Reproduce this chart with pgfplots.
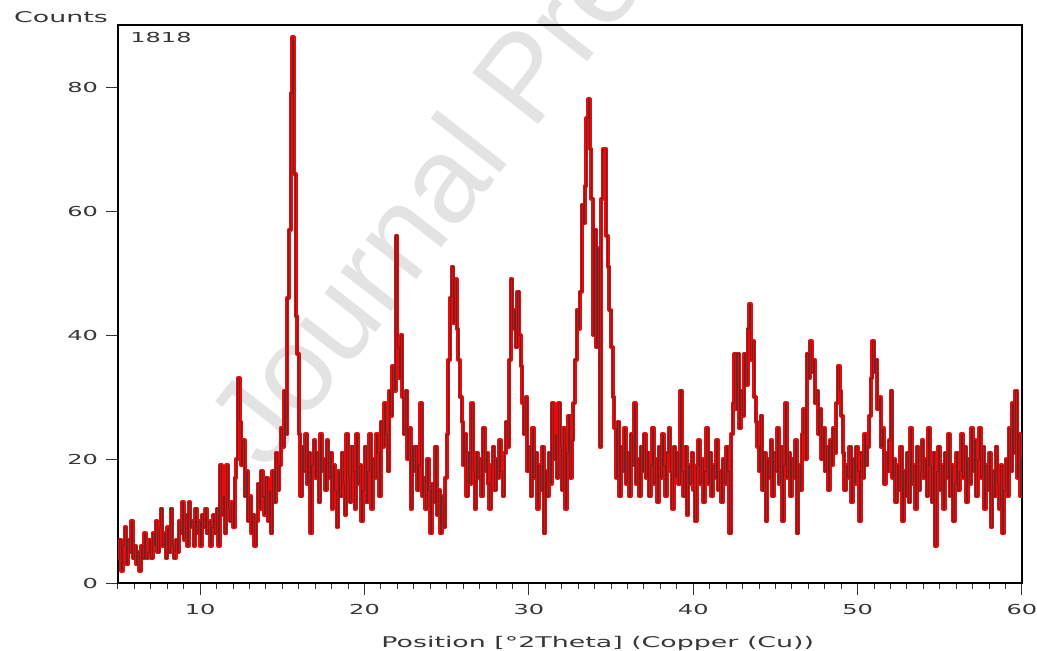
\documentclass[border=0pt]{standalone}
\usepackage{fontspec}
\usepackage{pgfplots}
\usepackage{pgfplotstable}
\pgfplotsset{compat=1.18}
\newfontfamily\wfont[FakeStretch=1.75]{DejaVu Sans}
\newfontfamily\lfont[FakeStretch=1.82]{DejaVu Sans}
\newfontfamily\wmfont{Liberation Sans}
\definecolor{xrdred}{RGB}{228,12,12}
\definecolor{xrddark}{RGB}{120,32,32}
\definecolor{txt}{RGB}{55,55,55}

\pgfplotstableread[row sep=\\]{
x y\\
5.0 4\\ 5.1 7\\ 5.2 2\\ 5.3 6\\ 5.4 9\\ 5.5 3\\ 5.6 7\\ 5.7 5\\ 5.8 10\\ 5.9 4\\
6.0 6\\ 6.1 3\\ 6.2 5\\ 6.3 2\\ 6.4 6\\ 6.5 4\\ 6.6 8\\ 6.7 4\\ 6.8 5\\ 6.9 7\\
7.0 4\\ 7.1 8\\ 7.2 6\\ 7.3 10\\ 7.4 5\\ 7.5 9\\ 7.6 12\\ 7.7 6\\ 7.8 8\\ 7.9 4\\
8.0 9\\ 8.1 5\\ 8.2 12\\ 8.3 6\\ 8.4 4\\ 8.5 7\\ 8.6 5\\ 8.7 10\\ 8.8 8\\ 8.9 13\\
9.0 7\\ 9.1 11\\ 9.2 6\\ 9.3 13\\ 9.4 9\\ 9.5 10\\ 9.6 6\\ 9.7 12\\ 9.8 8\\ 9.9 10\\
10.0 6\\ 10.1 11\\ 10.2 9\\ 10.3 12\\ 10.4 8\\ 10.5 10\\ 10.6 6\\ 10.7 9\\ 10.8 11\\ 10.9 8\\
11.0 12\\ 11.1 6\\ 11.2 19\\ 11.3 11\\ 11.4 14\\ 11.5 8\\ 11.6 19\\ 11.7 12\\ 11.8 10\\ 11.9 13\\
12.0 9\\ 12.1 17\\ 12.2 20\\ 12.3 33\\ 12.4 26\\ 12.5 19\\ 12.6 23\\ 12.7 14\\ 12.8 18\\ 12.9 10\\
13.0 14\\ 13.1 8\\ 13.2 11\\ 13.3 6\\ 13.4 10\\ 13.5 16\\ 13.6 12\\ 13.7 18\\ 13.8 14\\ 13.9 11\\
14.0 17\\ 14.1 10\\ 14.2 15\\ 14.3 8\\ 14.4 18\\ 14.5 13\\ 14.6 21\\ 14.7 15\\ 14.8 19\\ 14.9 25\\
15.0 22\\ 15.1 31\\ 15.2 24\\ 15.3 46\\ 15.4 57\\ 15.5 79\\ 15.6 88\\ 15.7 66\\ 15.8 43\\ 15.9 37\\
16.0 24\\ 16.1 14\\ 16.2 22\\ 16.3 18\\ 16.4 24\\ 16.5 16\\ 16.6 21\\ 16.7 8\\ 16.8 19\\ 16.9 23\\
17.0 17\\ 17.1 21\\ 17.2 13\\ 17.3 24\\ 17.4 18\\ 17.5 20\\ 17.6 15\\ 17.7 23\\ 17.8 17\\ 17.9 21\\
18.0 12\\ 18.1 19\\ 18.2 15\\ 18.3 9\\ 18.4 18\\ 18.5 14\\ 18.6 21\\ 18.7 16\\ 18.8 11\\ 18.9 24\\
19.0 17\\ 19.1 13\\ 19.2 22\\ 19.3 18\\ 19.4 12\\ 19.5 24\\ 19.6 16\\ 19.7 19\\ 19.8 10\\ 19.9 15\\
20.0 22\\ 20.1 13\\ 20.2 18\\ 20.3 24\\ 20.4 12\\ 20.5 20\\ 20.6 17\\ 20.7 24\\ 20.8 21\\ 20.9 14\\
21.0 26\\ 21.1 22\\ 21.2 29\\ 21.3 24\\ 21.4 18\\ 21.5 31\\ 21.6 27\\ 21.7 35\\ 21.8 31\\ 21.9 56\\
22.0 38\\ 22.1 33\\ 22.2 40\\ 22.3 30\\ 22.4 24\\ 22.5 31\\ 22.6 20\\ 22.7 25\\ 22.8 12\\ 22.9 22\\
23.0 18\\ 23.1 22\\ 23.2 15\\ 23.3 19\\ 23.4 29\\ 23.5 14\\ 23.6 17\\ 23.7 12\\ 23.8 20\\ 23.9 15\\
24.0 8\\ 24.1 16\\ 24.2 13\\ 24.3 22\\ 24.4 11\\ 24.5 15\\ 24.6 8\\ 24.7 14\\ 24.8 9\\ 24.9 17\\
25.0 24\\ 25.1 36\\ 25.2 46\\ 25.3 51\\ 25.4 42\\ 25.5 49\\ 25.6 41\\ 25.7 36\\ 25.8 30\\ 25.9 26\\
26.0 19\\ 26.1 24\\ 26.2 14\\ 26.3 21\\ 26.4 16\\ 26.5 29\\ 26.6 18\\ 26.7 12\\ 26.8 21\\ 26.9 17\\
27.0 20\\ 27.1 14\\ 27.2 25\\ 27.3 18\\ 27.4 21\\ 27.5 16\\ 27.6 12\\ 27.7 19\\ 27.8 22\\ 27.9 15\\
28.0 20\\ 28.1 17\\ 28.2 23\\ 28.3 18\\ 28.4 14\\ 28.5 21\\ 28.6 26\\ 28.7 22\\ 28.8 36\\ 28.9 49\\
29.0 41\\ 29.1 44\\ 29.2 38\\ 29.3 47\\ 29.4 40\\ 29.5 35\\ 29.6 29\\ 29.7 24\\ 29.8 30\\ 29.9 18\\
30.0 22\\ 30.1 14\\ 30.2 25\\ 30.3 17\\ 30.4 21\\ 30.5 12\\ 30.6 19\\ 30.7 15\\ 30.8 22\\ 30.9 8\\
31.0 18\\ 31.1 14\\ 31.2 21\\ 31.3 16\\ 31.4 29\\ 31.5 20\\ 31.6 24\\ 31.7 17\\ 31.8 29\\ 31.9 22\\
32.0 15\\ 32.1 25\\ 32.2 12\\ 32.3 21\\ 32.4 27\\ 32.5 17\\ 32.6 23\\ 32.7 29\\ 32.8 36\\ 32.9 44\\
33.0 41\\ 33.1 47\\ 33.2 61\\ 33.3 58\\ 33.4 64\\ 33.5 75\\ 33.6 78\\ 33.7 70\\ 33.8 62\\ 33.9 40\\
34.0 57\\ 34.1 38\\ 34.2 54\\ 34.3 22\\ 34.4 62\\ 34.5 70\\ 34.6 70\\ 34.7 56\\ 34.8 51\\ 34.9 44\\
35.0 38\\ 35.1 30\\ 35.2 25\\ 35.3 17\\ 35.4 26\\ 35.5 14\\ 35.6 22\\ 35.7 18\\ 35.8 25\\ 35.9 16\\
36.0 21\\ 36.1 14\\ 36.2 24\\ 36.3 19\\ 36.4 29\\ 36.5 16\\ 36.6 20\\ 36.7 14\\ 36.8 22\\ 36.9 18\\
37.0 24\\ 37.1 17\\ 37.2 21\\ 37.3 14\\ 37.4 19\\ 37.5 25\\ 37.6 16\\ 37.7 20\\ 37.8 13\\ 37.9 22\\
38.0 17\\ 38.1 24\\ 38.2 19\\ 38.3 14\\ 38.4 21\\ 38.5 25\\ 38.6 18\\ 38.7 12\\ 38.8 22\\ 38.9 17\\
39.0 21\\ 39.1 16\\ 39.2 31\\ 39.3 18\\ 39.4 14\\ 39.5 22\\ 39.6 11\\ 39.7 19\\ 39.8 16\\ 39.9 21\\
40.0 15\\ 40.1 10\\ 40.2 19\\ 40.3 23\\ 40.4 16\\ 40.5 20\\ 40.6 13\\ 40.7 18\\ 40.8 25\\ 40.9 16\\
41.0 21\\ 41.1 14\\ 41.2 19\\ 41.3 17\\ 41.4 23\\ 41.5 15\\ 41.6 18\\ 41.7 13\\ 41.8 20\\ 41.9 16\\
42.0 22\\ 42.1 18\\ 42.2 8\\ 42.3 24\\ 42.4 29\\ 42.5 37\\ 42.6 28\\ 42.7 37\\ 42.8 25\\ 42.9 31\\
43.0 27\\ 43.1 37\\ 43.2 32\\ 43.3 41\\ 43.4 45\\ 43.5 36\\ 43.6 39\\ 43.7 30\\ 43.8 26\\ 43.9 22\\
44.0 18\\ 44.1 27\\ 44.2 15\\ 44.3 21\\ 44.4 10\\ 44.5 20\\ 44.6 17\\ 44.7 23\\ 44.8 14\\ 44.9 21\\
45.0 18\\ 45.1 25\\ 45.2 16\\ 45.3 22\\ 45.4 10\\ 45.5 19\\ 45.6 29\\ 45.7 17\\ 45.8 21\\ 45.9 14\\
46.0 20\\ 46.1 17\\ 46.2 23\\ 46.3 8\\ 46.4 19\\ 46.5 15\\ 46.6 24\\ 46.7 28\\ 46.8 20\\ 46.9 37\\
47.0 33\\ 47.1 39\\ 47.2 34\\ 47.3 36\\ 47.4 29\\ 47.5 31\\ 47.6 24\\ 47.7 28\\ 47.8 20\\ 47.9 25\\
48.0 18\\ 48.1 22\\ 48.2 15\\ 48.3 23\\ 48.4 19\\ 48.5 25\\ 48.6 21\\ 48.7 29\\ 48.8 35\\ 48.9 31\\
49.0 27\\ 49.1 21\\ 49.2 15\\ 49.3 19\\ 49.4 17\\ 49.5 22\\ 49.6 13\\ 49.7 20\\ 49.8 16\\ 49.9 22\\
50.0 18\\ 50.1 10\\ 50.2 21\\ 50.3 17\\ 50.4 24\\ 50.5 19\\ 50.6 22\\ 50.7 27\\ 50.8 33\\ 50.9 39\\
51.0 34\\ 51.1 36\\ 51.2 28\\ 51.3 30\\ 51.4 22\\ 51.5 25\\ 51.6 16\\ 51.7 21\\ 51.8 18\\ 51.9 23\\
52.0 31\\ 52.1 17\\ 52.2 20\\ 52.3 13\\ 52.4 19\\ 52.5 15\\ 52.6 22\\ 52.7 10\\ 52.8 18\\ 52.9 14\\
53.0 21\\ 53.1 13\\ 53.2 25\\ 53.3 16\\ 53.4 19\\ 53.5 12\\ 53.6 22\\ 53.7 15\\ 53.8 18\\ 53.9 23\\
54.0 17\\ 54.1 20\\ 54.2 14\\ 54.3 25\\ 54.4 19\\ 54.5 13\\ 54.6 21\\ 54.7 6\\ 54.8 18\\ 54.9 22\\
55.0 15\\ 55.1 19\\ 55.2 12\\ 55.3 21\\ 55.4 17\\ 55.5 24\\ 55.6 14\\ 55.7 19\\ 55.8 10\\ 55.9 16\\
56.0 21\\ 56.1 15\\ 56.2 18\\ 56.3 24\\ 56.4 17\\ 56.5 22\\ 56.6 13\\ 56.7 20\\ 56.8 16\\ 56.9 25\\
57.0 18\\ 57.1 23\\ 57.2 14\\ 57.3 20\\ 57.4 25\\ 57.5 17\\ 57.6 22\\ 57.7 12\\ 57.8 19\\ 57.9 15\\
58.0 21\\ 58.1 9\\ 58.2 18\\ 58.3 14\\ 58.4 22\\ 58.5 16\\ 58.6 12\\ 58.7 19\\ 58.8 8\\ 58.9 15\\
59.0 20\\ 59.1 14\\ 59.2 25\\ 59.3 18\\ 59.4 29\\ 59.5 21\\ 59.6 31\\ 59.7 17\\ 59.8 24\\ 59.9 14\\
60.0 20\\
}\xrd

\begin{document}
\begin{tikzpicture}
\path[use as bounding box] (-59bp,-34bp) rectangle (459.5bp,291.5bp);
\begin{scope}
\clip (-59bp,-34bp) rectangle (459.5bp,291.5bp);
\node[rotate=52, anchor=base west, inner sep=0pt, text=black!11,
      font=\wmfont\fontsize{61}{64}\selectfont] at (74bp,55bp) {Journal Pre-proof};
\end{scope}
\begin{axis}[
  scale only axis,
  width=452bp, height=279bp,
  xmin=5, xmax=60, ymin=0, ymax=90,
  axis line style={line width=1.2bp, black},
  xtick={10,20,...,60},
  minor xtick={5,...,60},
  ytick={0,20,40,60,80},
  xtick pos=bottom, ytick pos=left,
  tick align=outside,
  major tick length=6bp, minor tick length=3bp,
  tick style={line width=0.5bp, black!80},
  /pgf/number format/assume math mode=true,
  ticklabel style={font=\wfont\fontsize{6.9}{8}\selectfont, text=txt},
  xticklabel style={yshift=-1bp},
  yticklabel style={xshift=-0.5bp},
  clip mode=individual,
]
\addplot[xrdred, line width=2bp, line join=round, const plot] table[x=x,y=y] {\xrd};
\addplot[xrddark, line width=0.5bp, line join=round, const plot] table[x=x,y=y] {\xrd};
\node[anchor=base, text=txt, font=\lfont\fontsize{7.4}{8}\selectfont]
  at (rel axis cs:0,1) [xshift=-28.5bp, yshift=1.2bp] {Counts};
\node[anchor=base west, inner sep=0pt, text=txt, font=\wfont\fontsize{6.9}{8}\selectfont]
  at (rel axis cs:0,1) [xshift=6bp, yshift=-8.5bp] {1818};
\node[anchor=base west, inner sep=0pt, text=txt, font=\lfont\fontsize{7.4}{8}\selectfont]
  at (rel axis cs:0,0) [xshift=131.5bp, yshift=-32bp] {Position [°2Theta] (Copper (Cu))};
\end{axis}
\end{tikzpicture}
\end{document}
